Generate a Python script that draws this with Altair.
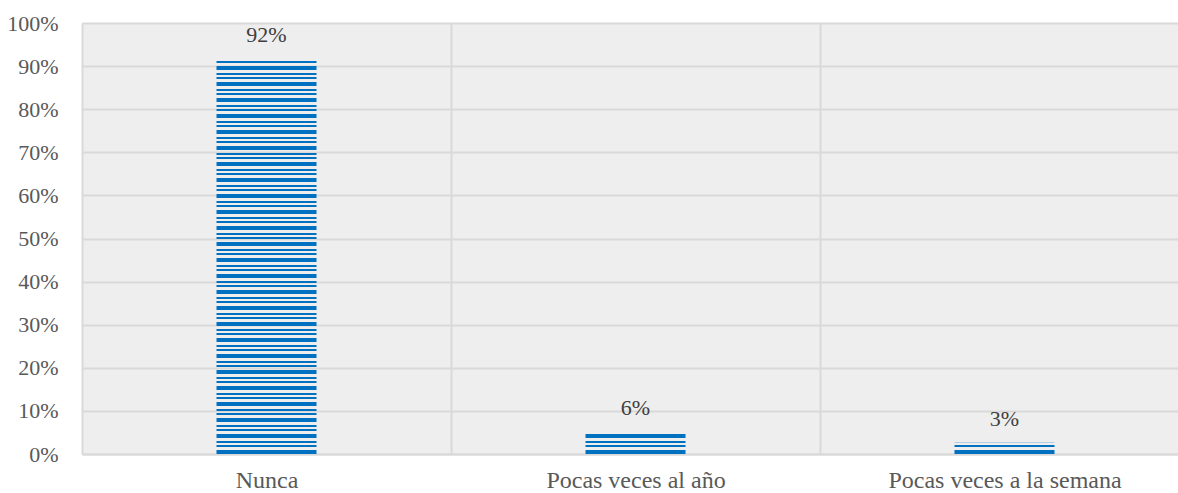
import altair as alt
import pandas as pd

categories = ["Nunca", "Pocas veces al año", "Pocas veces a la semana"]
values = [0.916, 0.052, 0.026]
labels = ["92%", "6%", "3%"]

df = pd.DataFrame({"cat": categories, "val": values, "lab": labels, "zero": [0, 0, 0]})

FONT = "Liberation Serif"
BLUE = "#0070C0"
GRID = "#d9d9d9"

x = alt.X(
    "cat:N",
    sort=categories,
    scale=alt.Scale(range=[0, 1107], paddingInner=0, paddingOuter=0),
    axis=alt.Axis(
        title=None,
        labelAngle=0,
        labelLimit=0,
        grid=True,
        gridColor=GRID,
        gridWidth=2,
        tickBand="extent",
        ticks=False,
        domainColor=GRID,
        domainWidth=2,
        labelFont=FONT,
        labelFontSize=24,
        labelColor="#595959",
        labelPadding=14,
    ),
)

y = alt.Y(
    "zero:Q",
    scale=alt.Scale(domain=[0, 1], nice=False),
    axis=alt.Axis(
        title=None,
        format=".0%",
        tickCount=10,
        grid=True,
        gridColor=GRID,
        gridWidth=2,
        ticks=False,
        domain=False,
        labelFont=FONT,
        labelFontSize=22,
        labelColor="#595959",
        labelPadding=24,
    ),
)

bars = alt.Chart(df).mark_rule(
    color=BLUE, strokeWidth=100, strokeDash=[4, 3, 2, 2, 2, 3], strokeCap="butt"
).encode(x=x, y=y, y2="val:Q")

text = alt.Chart(df).mark_text(
    font=FONT, fontSize=22, color="#404040", baseline="bottom", dy=-12
).encode(x=alt.X("cat:N", sort=categories), y="val:Q", text="lab:N")

chart = (
    alt.layer(bars, text)
    .properties(
        width=1096,
        height=431,
        autosize=alt.AutoSizeParams(type="none"),
        padding={"left": 82, "top": 23, "right": 0, "bottom": 39},
        background="white",
    )
    .configure_view(fill="#eeeeee", stroke=None)
)

chart.save("out.html", embed_options={"renderer": "svg", "actions": False})
